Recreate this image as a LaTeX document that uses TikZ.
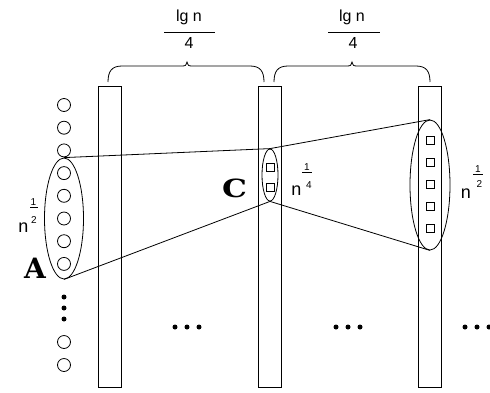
\documentclass[tikz,border=0pt]{standalone}
\usepackage{fontspec}
\usetikzlibrary{shapes.geometric}
\setmainfont{Liberation Sans}
\newfontfamily\lettfont{DejaVu Serif}
\tikzset{
  bar/.style={draw, line width=0.9pt},
  ring/.style={circle, draw, minimum size=13pt, inner sep=0pt, line width=0.8pt},
  sq/.style={draw, minimum size=8pt, inner sep=0pt, line width=0.8pt},
  grp/.style={ellipse, draw, inner sep=0pt, line width=0.8pt},
  link/.style={line width=0.8pt},
  lbl/.style={inner sep=0pt, anchor=base, font=\fontsize{16}{16}\selectfont},
  nlbl/.style={inner sep=0pt, anchor=base, font=\fontsize{18}{18}\selectfont},
  dig/.style={inner sep=0pt, anchor=base, font=\fontsize{10}{10}\selectfont},
  letter/.style={inner sep=0pt, anchor=base, font=\lettfont\bfseries\fontsize{28}{28}\selectfont},
  fbar/.style={line width=0.7pt},
  brc/.style={line width=0.8pt},
  dotfill/.style={fill=black}
}
\newcommand\mybrace[3]{%
  \draw[brc] (#1,82) .. controls (#1,71) and (#1+4,66) .. (#1+14,66) -- (#2-4,66)
    .. controls (#2-1.5,66) .. (#2,62) .. controls (#2+1.5,66) .. (#2+4,66) -- (#3-14,66)
    .. controls (#3-4,66) and (#3,71) .. (#3,82);}
\begin{document}
\begin{tikzpicture}[x=1pt,y=-1pt]
\useasboundingbox (0,0) rectangle (490,392);
% bars
\draw[bar] (98.5,86) rectangle (121.5,387);
\draw[bar] (258.5,86) rectangle (281.5,387);
\draw[bar] (418.5,86) rectangle (441.5,387);
% braces
\mybrace{108}{187}{264}
\mybrace{274}{352}{430}
% fraction labels on top
\node[lbl] (t1) at (189,21) {lg n};
\draw[fbar] (164,32) -- (215,32);
\node[lbl] (t1d) at (189,48) {4};
\node[lbl] (t2) at (352,21) {lg n};
\draw[fbar] (328,32) -- (380,32);
\node[lbl] (t2d) at (353,48) {4};
% column of circles
\foreach \k in {0,...,7} {\node[ring] (c\k) at (64,{105+22.7*\k}) {};}
\node[ring] (c8) at (64,342) {};
\node[ring] (c9) at (64,365) {};
\foreach \yy in {297,308,319} {\fill[dotfill] (64,\yy) circle (2.5);}
% groups
\node[grp, minimum width=39pt, minimum height=121pt] (A) at (64,218.5) {};
\node[grp, minimum width=16pt, minimum height=52pt] (C) at (270,175) {};
\node[grp, minimum width=40pt, minimum height=130pt] (R) at (430,185) {};
\node[sq] (s1) at (270,167) {};
\node[sq] (s2) at (270,187) {};
\foreach \k/\yy in {1/140,2/162,3/184,4/206,5/228} {\node[sq] (r\k) at (430,\yy) {};}
% connectors
\draw[link] (A.north) -- (C.north) -- (R.north);
\draw[link] (A.south) -- (C.south) -- (R.south);
% horizontal dots
\foreach \xx in {175,187,199, 336,348,360, 465,477,489} {\fill[dotfill] (\xx,327) circle (2.5);}
% n labels
\node[nlbl] (nA) at (23.5,232) {n};
\node[dig] (nA1) at (33.5,205) {1};
\draw[fbar] (30,207.5) -- (37.5,207.5);
\node[dig] (nA2) at (34,223) {2};
\node[nlbl] (nC) at (296.5,195) {n};
\node[dig] (nC1) at (307,170) {1};
\draw[fbar] (302,172.5) -- (311.5,172.5);
\node[dig] (nC2) at (309,188) {4};
\node[nlbl] (nR) at (466,198) {n};
\node[dig] (nR1) at (478,172) {1};
\draw[fbar] (473,174) -- (483,174);
\node[dig] (nR2) at (479.5,187) {2};
% letters
\node[letter] (la) at (35,278) {A};
\node[letter, font=\lettfont\bfseries\fontsize{25}{25}\selectfont, xscale=1.25] (lc) at (234.5,197) {C};
\end{tikzpicture}
\end{document}
